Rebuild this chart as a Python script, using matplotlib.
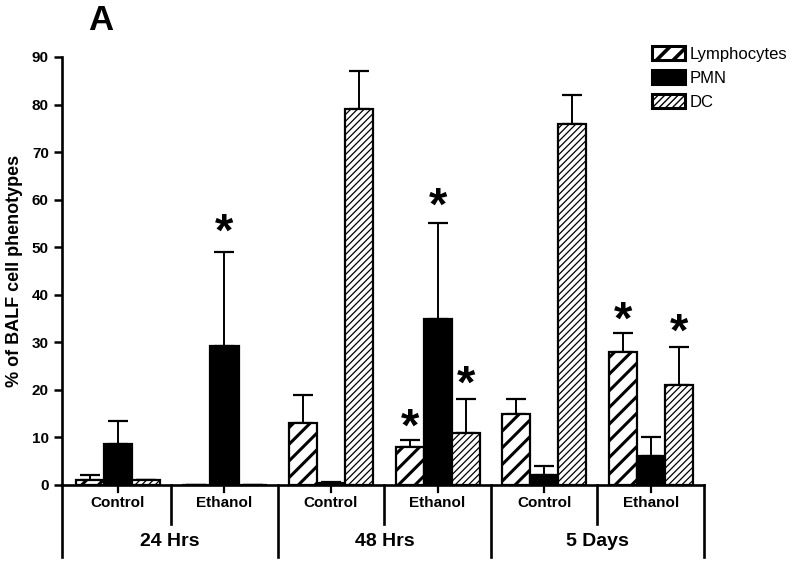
import matplotlib.pyplot as plt
import matplotlib.transforms as mtransforms
from matplotlib.patches import Patch
import numpy as np

plt.rcParams['font.family'] = ['Liberation Sans', 'DejaVu Sans']

# data
conditions = ['Control', 'Ethanol', 'Control', 'Ethanol', 'Control', 'Ethanol']
timepoints = ['24 Hrs', '48 Hrs', '5 Days']
series = ['Lymphocytes', 'PMN', 'DC']
lymph = [1.0, 0.0, 13.0, 8.0, 15.0, 28.0]
lymph_err = [1.0, 0.0, 6.0, 1.5, 3.0, 4.0]
pmn = [8.7, 29.2, 0.5, 35.0, 2.0, 6.0]
pmn_err = [4.8, 19.8, 0.2, 20.0, 2.0, 4.0]
dc = [1.0, 0.0, 79.0, 11.0, 76.0, 21.0]
dc_err = [0.0, 0.0, 8.0, 7.0, 6.0, 8.0]
# significance stars: (group index, series index, star height)
stars = [(1, 1, 54.5), (3, 0, 13.5), (3, 1, 60.0), (3, 2, 22.5), (5, 0, 36.0), (5, 2, 33.5)]

fig = plt.figure(figsize=(8, 5.63), dpi=100)
ax = fig.add_axes([62 / 800, 78 / 563, 642 / 800, 428 / 563])

x = np.arange(len(conditions))
w = 0.263
offs = [-w, 0, w]
vals = [lymph, pmn, dc]
errs = [lymph_err, pmn_err, dc_err]
hatches = ['//', None, '/////']
hlw = [2.2, 1.0, 0.9]
colors = ['white', 'black', 'white']

for i in range(3):
    plt.rcParams['hatch.linewidth'] = hlw[i]
    bars = ax.bar(x + offs[i], vals[i], w, color=colors[i], edgecolor='black',
                  linewidth=1.6, hatch=hatches[i], zorder=2)
    for b in bars:
        if hasattr(b, 'set_hatch_linewidth'):
            b.set_hatch_linewidth(hlw[i])
    e = np.array(errs[i])
    ax.errorbar(x + offs[i], vals[i], yerr=[np.zeros_like(e), e], fmt='none',
                ecolor='black', elinewidth=1.4, capsize=7, capthick=1.6, zorder=1)

# the asterisk glyph sits high in its box, so nudge it down a little
star_off = transforms_off = mtransforms.offset_copy(ax.transData, fig=fig, y=-8, units='dots')
for g, s, h in stars:
    ax.text(x[g] + offs[s], h, '*', ha='center', va='center', fontsize=34,
            fontweight='bold', zorder=3, transform=star_off)

ax.set_ylim(0, 90)
ax.set_xlim(-0.525, 5.5)
ax.set_yticks(np.arange(0, 91, 10))
ax.tick_params(axis='y', width=1.8, length=6, labelsize=11)
for t in ax.get_yticklabels():
    t.set_fontweight('bold')
ax.set_xticks([])
for sp in ['top', 'right']:
    ax.spines[sp].set_visible(False)
for sp in ['left', 'bottom']:
    ax.spines[sp].set_linewidth(1.9)
ax.set_ylabel('% of BALF cell phenotypes', fontsize=13, fontweight='bold', labelpad=6)

# two-level category axis below the plot
trans = mtransforms.blended_transform_factory(ax.transData, ax.transAxes)
px = 1 / 428
for xc in x:
    ax.plot([xc, xc], [0, -7 * px], color='black', lw=1.6, transform=trans, clip_on=False)
for xs in [0.5, 2.5, 4.5]:
    ax.plot([xs, xs], [0, -39 * px], color='black', lw=1.9, transform=trans, clip_on=False)
for xs in [-0.525, 1.5, 3.5, 5.5]:
    ax.plot([xs, xs], [0, -72 * px], color='black', lw=1.9, transform=trans, clip_on=False)
for xc, lab in zip(x, conditions):
    ax.text(xc, -18 * px, lab, ha='center', va='center', fontsize=11,
            fontweight='bold', transform=trans)
for xc, lab in zip([0.49, 2.5, 4.5], timepoints):
    ax.text(xc, -57 * px, lab, ha='center', va='center', fontsize=14,
            fontweight='bold', transform=trans)

fig.text(88 / 800, 1 - 21 / 563, 'A', fontsize=25, fontweight='bold', va='center', ha='left')

handles = [Patch(facecolor='white', edgecolor='black', hatch='//', linewidth=2.2),
           Patch(facecolor='black', edgecolor='black', linewidth=2.2),
           Patch(facecolor='white', edgecolor='black', hatch='/////', linewidth=2.2)]
leg = fig.legend(handles, series, loc='upper left', bbox_to_anchor=(652 / 800, 1 - 46 / 563),
                 frameon=False, fontsize=12, handlelength=2.0, handleheight=0.9,
                 labelspacing=0.5, handletextpad=0.25, borderpad=0, borderaxespad=0)
for p, lw in zip(leg.get_patches(), [2.6, 1.0, 1.0]):
    if hasattr(p, 'set_hatch_linewidth'):
        p.set_hatch_linewidth(lw)

fig.savefig('out.png', dpi=100)
